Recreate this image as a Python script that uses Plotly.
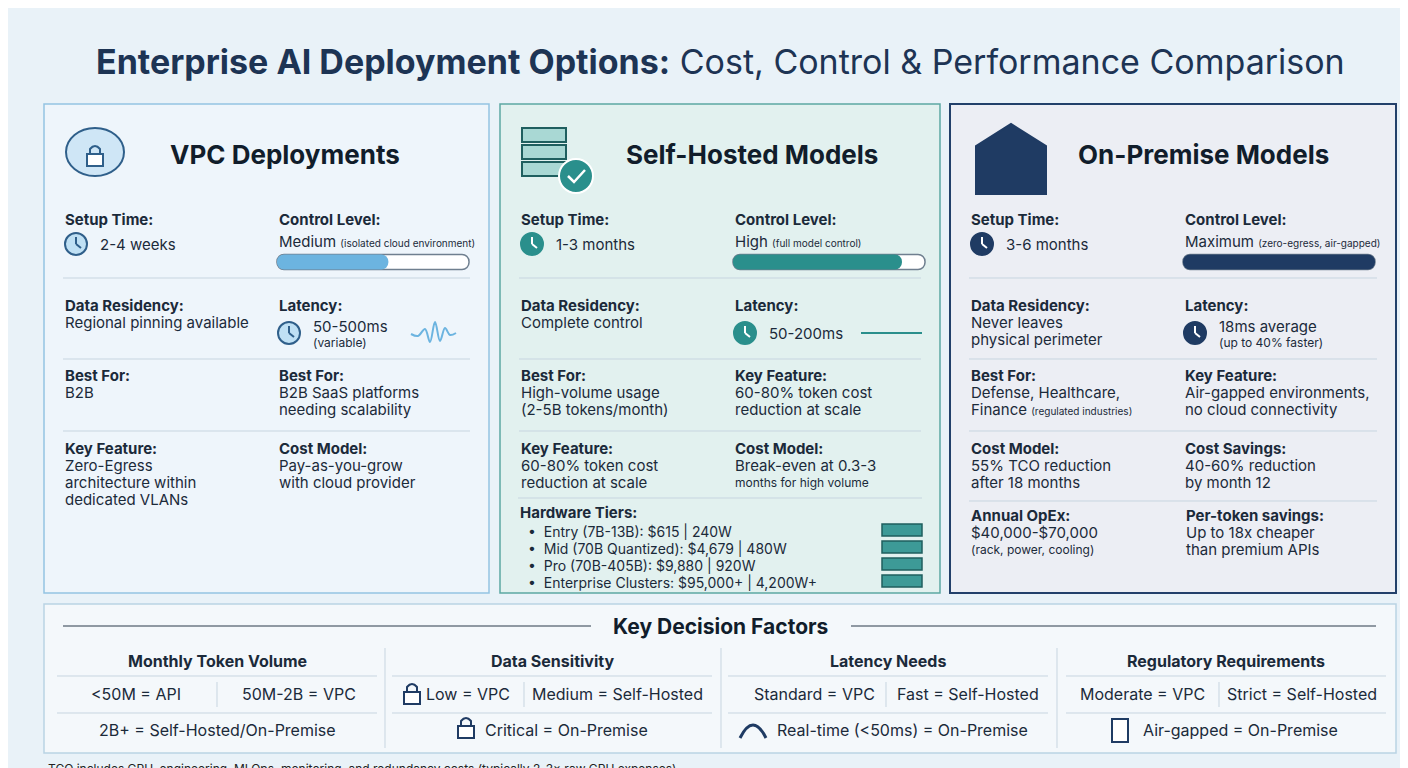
import plotly.graph_objects as go

# ---- data ----
panel_titles = ["VPC Deployments", "Self-Hosted Models", "On-Premise Models"]
setup_times = ["2-4 weeks", "1-3 months", "3-6 months"]
control_labels = ["Medium", "High", "Maximum"]
control_notes = ["(isolated cloud environment)", "(full model control)", "(zero-egress, air-gapped)"]
control_levels = [0.58, 0.88, 1.0]
residency = [["Regional pinning available"], ["Complete control"], ["Never leaves", "physical perimeter"]]
latency = [["50-500ms", "(variable)"], ["50-200ms"], ["18ms average", "(up to 40% faster)"]]
row3_left = [("Best For:", ["B2B"]),
             ("Best For:", ["High-volume usage", "(2-5B tokens/month)"]),
             ("Best For:", ["Defense, Healthcare,", "Finance <span style='font-size:10px'>(regulated industries)</span>"])]
row3_right = [("Best For:", ["B2B SaaS platforms", "needing scalability"]),
              ("Key Feature:", ["60-80% token cost", "reduction at scale"]),
              ("Key Feature:", ["Air-gapped environments,", "no cloud connectivity"])]
row4_left = [("Key Feature:", ["Zero-Egress", "architecture within", "dedicated VLANs"]),
             ("Key Feature:", ["60-80% token cost", "reduction at scale"]),
             ("Cost Model:", ["55% TCO reduction", "after 18 months"])]
row4_right = [("Cost Model:", ["Pay-as-you-grow", "with cloud provider"]),
              ("Cost Model:", ["Break-even at 0.3-3", "<span style='font-size:12px'>months for high volume</span>"]),
              ("Cost Savings:", ["40-60% reduction", "by month 12"])]
hardware_tiers = ["Entry (7B-13B): $615 | 240W", "Mid (70B Quantized): $4,679 | 480W",
                  "Pro (70B-405B): $9,880 | 920W", "Enterprise Clusters: $95,000+ | 4,200W+"]
opex = ("Annual OpEx:", ["$40,000-$70,000", "<span style='font-size:12px'>(rack, power, cooling)</span>"])
per_token = ("Per-token savings:", ["Up to 18x cheaper", "than premium APIs"])
vpc_wave_x = [395, 402, 409, 414, 419, 424, 429, 434, 440]
vpc_wave_y = [318, 320, 313, 326, 306, 325, 312, 319, 317]
factor_titles = ["Monthly Token Volume", "Data Sensitivity", "Latency Needs", "Regulatory Requirements"]
factor_row1 = [["<50M = API", "50M-2B = VPC"], ["Low = VPC", "Medium = Self-Hosted"],
               ["Standard = VPC", "Fast = Self-Hosted"], ["Moderate = VPC", "Strict = Self-Hosted"]]
factor_row2 = ["2B+ = Self-Hosted/On-Premise", "Critical = On-Premise",
               "Real-time (<50ms) = On-Premise", "Air-gapped = On-Premise"]
footnote = "TCO includes GPU, engineering, MLOps, monitoring, and redundancy costs (typically 2-3× raw GPU expenses)."

# ---- styles ----
FONT = "Inter, Roboto, Arial"
TXT = "#1b2a3a"
panels_x = [(28, 473), (484, 924), (934, 1380)]
panel_fill = ["#eef5fb", "#e2f1ef", "#eceef4"]
panel_line = ["#94c4e2", "#5ca8a2", "#22406a"]
accent = ["#6cb4e0", "#2a8f8c", "#1f3b63"]
clock_fill = ["#bfe0f4", "#2a8f8c", "#1f3b63"]
col_off = [19, 233]
BODY = 15

fig = go.Figure()
shapes, annots = [], []


def text(x, y, s, size=BODY, bold=False, color=TXT, anchor="left"):
    annots.append(dict(x=x, y=y, text=f"<b>{s}</b>" if bold else s, showarrow=False,
                       xanchor=anchor, yanchor="middle", font=dict(size=size, color=color, family=FONT)))


def rect(x0, y0, x1, y1, fill, line=None, width=1):
    shapes.append(dict(type="rect", x0=x0, y0=y0, x1=x1, y1=y1, fillcolor=fill,
                       line=dict(color=line or fill, width=width), layer="below"))


def hline(x0, x1, y, color="#c7d5e0", width=1):
    shapes.append(dict(type="line", x0=x0, x1=x1, y0=y, y1=y, line=dict(color=color, width=width)))


def vline(x, y0, y1, color="#c7d5e0", width=1):
    shapes.append(dict(type="line", x0=x, x1=x, y0=y0, y1=y1, line=dict(color=color, width=width)))


def clock(cx, cy, fill, edge):
    shapes.append(dict(type="circle", x0=cx - 11, x1=cx + 11, y0=cy - 11, y1=cy + 11,
                       fillcolor=fill, line=dict(color=edge, width=2)))
    hand = "white" if fill != "#bfe0f4" else edge
    shapes.append(dict(type="line", x0=cx, x1=cx, y0=cy, y1=cy - 7, line=dict(color=hand, width=2)))
    shapes.append(dict(type="line", x0=cx, x1=cx + 5, y0=cy, y1=cy + 4, line=dict(color=hand, width=2)))


def lock(cx, cy, color="#1f3b63"):
    shapes.append(dict(type="rect", x0=cx - 8, x1=cx + 8, y0=cy - 2, y1=cy + 10, fillcolor="white",
                       line=dict(color=color, width=2)))
    shapes.append(dict(type="path", path=f"M {cx-5},{cy-2} L {cx-5},{cy-7} Q {cx},{cy-13} {cx+5},{cy-7} L {cx+5},{cy-2}",
                       line=dict(color=color, width=2)))


def block(x, y, head, lines, size=BODY):
    text(x, y, head, bold=True)
    for i, ln in enumerate(lines):
        text(x, y + 17 + 17 * i, ln, size=size)


# background + title
rect(-10, -10, 1420, 780, "#e9f2f8")
annots.append(dict(x=704, y=45, showarrow=False, xanchor="center", yanchor="middle",
                   text="<b>Enterprise AI Deployment Options:</b> Cost, Control & Performance Comparison",
                   font=dict(size=34, color="#1d3454", family=FONT)))

for p in range(3):
    x0, x1 = panels_x[p]
    rect(x0, 88, x1, 577, panel_fill[p], panel_line[p], 2 if p == 2 else 1.5)
    text(x0 + 124 if p != 2 else x0 + 126, 138, panel_titles[p], size=26, bold=True, color="#111d2b")
    L, R = x0 + col_off[0], x0 + col_off[1]
    # header icon
    if p == 0:
        shapes.append(dict(type="circle", x0=50, x1=108, y0=112, y1=160, fillcolor="#cfe6f6",
                           line=dict(color="#2f5f8a", width=2)))
        lock(79, 140, "#2f5f8a")
    elif p == 1:
        for k in range(3):
            rect(506, 112 + k * 17, 550, 126 + k * 17, "#a9d8d4", "#1f5f5f", 2)
        shapes.append(dict(type="circle", x0=543, x1=577, y0=143, y1=177, fillcolor="#2a8f8c",
                           line=dict(color="white", width=2)))
        shapes.append(dict(type="path", path="M 552,160 L 558,166 L 569,154", line=dict(color="white", width=2.5)))
    else:
        shapes.append(dict(type="path", path="M 960,130 L 995,108 L 1030,130 L 1030,178 L 960,178 Z",
                           fillcolor="#1f3b63", line=dict(color="#1f3b63")))
        for k in range(4):
            rect(980, 140 + k * 9, 1010, 146 + k * 9, "#dfe5ee")
    # row 1
    text(L, 203, "Setup Time:", bold=True)
    clock(L + 13, 228, clock_fill[p], "#2f5f8a" if p == 0 else accent[p])
    text(L + 35, 228, setup_times[p])
    text(R, 203, "Control Level:", bold=True)
    text(R, 225, f"{control_labels[p]} <span style='font-size:10px'>{control_notes[p]}</span>")
    fig.add_trace(go.Bar(orientation="h", y=[246], x=[192], base=[R], width=[15],
                         marker=dict(color="white", line=dict(color="#6f7f8f", width=1.5), cornerradius=7),
                         hoverinfo="skip", showlegend=False))
    fig.add_trace(go.Bar(orientation="h", y=[246], x=[192 * control_levels[p]], base=[R], width=[15],
                         marker=dict(color=accent[p], line=dict(width=0), cornerradius=7),
                         hoverinfo="skip", showlegend=False))
    hline(L, x1 - 19, 262)
    # row 2
    block(L, 289, "Data Residency:", residency[p])
    text(R, 289, "Latency:", bold=True)
    clock(R + 12, 317, clock_fill[p], "#2f5f8a" if p == 0 else accent[p])
    if len(latency[p]) == 2:
        text(R + 34, 310, latency[p][0])
        text(R + 34, 326, latency[p][1], size=12)
    else:
        text(R + 34, 317, latency[p][0])
    hline(L, x1 - 19, 343)
    # rows 3 and 4
    block(L, 359, *row3_left[p])
    block(R, 359, *row3_right[p])
    hline(L, x1 - 19, 415)
    block(L, 432, *row4_left[p])
    block(R, 432, *row4_right[p])

# panel-specific extras
fig.add_trace(go.Scatter(x=vpc_wave_x, y=vpc_wave_y, mode="lines", line=dict(color="#6cb4e0", width=2, shape="spline"),
                         hoverinfo="skip", showlegend=False))
hline(845, 906, 317, "#2a8f8c", 2)
hline(502, 906, 482)
text(502, 496, "Hardware Tiers:", bold=True)
for i, t in enumerate(hardware_tiers):
    text(510, 515 + 17 * i, "•  " + t, size=14)
    rect(866, 508 + 17 * i, 906, 520 + 17 * i, "#3d9a97", "#1f5f5f", 1.5)
hline(953, 1361, 485)
block(953, 499, *opex)
block(1168, 499, *per_token)

# bottom panel
rect(28, 588, 1380, 737, "#f4f8fb", "#b9d3e4", 1.5)
text(704, 610, "Key Decision Factors", size=21, bold=True, color="#111d2b", anchor="center")
hline(47, 575, 610, "#2b3b4b")
hline(835, 1360, 610, "#2b3b4b")
centers = [201, 536, 872, 1210]
for x in [369, 705, 1041]:
    vline(x, 632, 732)
subx = [[120, 283], [452, 601], [798, 952], [1126, 1286]]
divx = [201, 508, 870, 1203]
for i, c in enumerate(centers):
    left, right = c - 160, c + 160
    text(c, 645, factor_titles[i], size=16, bold=True, anchor="center")
    hline(left, right, 660)
    hline(left, right, 697)
    vline(divx[i], 666, 691)
    text(subx[i][0], 678, factor_row1[i][0], size=16, anchor="center")
    text(subx[i][1], 678, factor_row1[i][1], size=16, anchor="center")
    text(c + (14 if i else 0), 714, factor_row2[i], size=16, anchor="center")
lock(396, 678)
lock(450, 712)
shapes.append(dict(type="path", path="M 724,722 Q 737,696 750,722", line=dict(color="#1f3b63", width=3)))
rect(1096, 703, 1112, 726, "white", "#1f3b63", 2)
text(30, 752, footnote, size=12, color="#222")

# the page adds an 8px body margin, so shift the ranges to keep the layout aligned
fig.update_layout(
    width=1408, height=768, margin=dict(l=0, r=0, t=0, b=0),
    paper_bgcolor="#e9f2f8", plot_bgcolor="rgba(0,0,0,0)", barmode="overlay",
    xaxis=dict(range=[-8, 1400], visible=False, fixedrange=True),
    yaxis=dict(range=[760, -8], visible=False, fixedrange=True),
    shapes=shapes, annotations=annots,
)
fig.write_html("out.html")
